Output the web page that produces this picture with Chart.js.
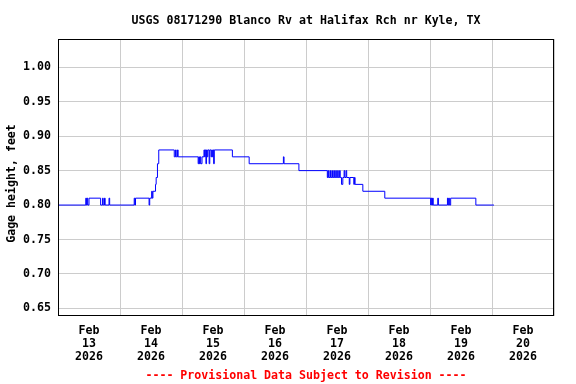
<!DOCTYPE html>
<html><head><meta charset="utf-8">
<script src="https://cdn.jsdelivr.net/npm/chart.js@4/dist/chart.umd.min.js"></script>
<style>html,body{margin:0;padding:0;background:#fff}canvas{display:block}</style>
</head><body>
<canvas id="c" width="576" height="384"></canvas>
<script>
// Hours since Feb 13 2026 00:00 at which the gage value changes
const hours = [0,10.75,11.0,11.25,11.5,12.0,16.5,17.25,17.5,18.0,18.25,19.75,20.0,29.5,29.75,30.0,35.25,35.5,36.25,36.5,36.75,37.75,38.0,38.5,39.0,
  45.0,45.5,45.75,46.25,46.5,54.25,54.5,54.75,55.0,55.25,55.75,56.5,56.75,57.0,57.25,57.5,57.75,58.0,58.5,58.75,59.25,59.5,59.75,60.0,60.25,60.5,
  67.5,74.0,87.25,87.5,93.25,104.25,104.5,104.75,105.25,105.5,106.0,106.25,106.75,107.0,107.5,107.75,108.25,108.5,109.0,109.25,109.75,110.25,110.75,111.0,111.5,111.75,
  112.75,113.0,114.5,114.75,115.0,118.0,126.5,144.25,144.5,144.75,145.0,145.25,147.0,147.25,150.75,151.0,151.25,151.5,152.0,161.75,168.75];
const gage = [0.80,0.81,0.80,0.81,0.80,0.81,0.80,0.81,0.80,0.81,0.80,0.81,0.80,0.81,0.80,0.81,0.80,0.81,0.82,0.81,0.82,0.83,0.84,0.86,0.88,
  0.87,0.88,0.87,0.88,0.87,0.86,0.87,0.86,0.87,0.86,0.87,0.88,0.87,0.88,0.86,0.88,0.87,0.88,0.86,0.88,0.87,0.88,0.87,0.88,0.86,0.88,
  0.87,0.86,0.87,0.86,0.85,0.84,0.85,0.84,0.85,0.84,0.85,0.84,0.85,0.84,0.85,0.84,0.85,0.84,0.85,0.84,0.83,0.84,0.85,0.84,0.85,0.84,
  0.83,0.84,0.83,0.84,0.83,0.82,0.81,0.80,0.81,0.80,0.81,0.80,0.81,0.80,0.81,0.80,0.81,0.80,0.81,0.80,0.80];
const dayTickHours = [12,36,60,84,108,132,156,180];
const dayTickLabels = ['Feb 13 2026','Feb 14 2026','Feb 15 2026','Feb 16 2026','Feb 17 2026','Feb 18 2026','Feb 19 2026','Feb 20 2026'];
const gridHours = [0,24,48,72,96,120,144,168,192];
const yTicks = [0.65,0.70,0.75,0.80,0.85,0.90,0.95,1.00];

const FONT = "'DejaVu Sans Mono', 'Liberation Mono', monospace";
const f = {family: FONT, size: 11.6, weight: 'bold', lineHeight: '14px'};

const frame = {
  id: 'frame',
  afterDatasetsDraw(chart) {
    const a = chart.chartArea, ctx = chart.ctx;
    ctx.save();
    ctx.strokeStyle = '#000';
    ctx.lineWidth = 1;
    ctx.strokeRect(Math.round(a.left) + 0.5, Math.round(a.top) + 0.5, Math.round(a.right - a.left) - 1, Math.round(a.bottom - a.top) - 1);
    ctx.restore();
  }
};

new Chart(document.getElementById('c'), {
  type: 'line',
  data: {
    datasets: [{
      data: hours.map((h, i) => ({x: h, y: gage[i]})),
      borderColor: '#0000ff',
      borderWidth: 1,
      pointRadius: 0,
      stepped: true,
      fill: false
    }]
  },
  options: {
    responsive: false,
    animation: false,
    events: [],
    layout: {padding: {left: 0, right: 22, top: 0, bottom: 0}},
    plugins: {
      legend: {display: false},
      tooltip: {enabled: false},
      title: {display: true, fullSize: false, text: 'USGS 08171290 Blanco Rv at Halifax Rch nr Kyle, TX', color: '#000', font: f, padding: {top: 14, bottom: 11}},
      subtitle: {display: true, fullSize: false, position: 'bottom', text: '---- Provisional Data Subject to Revision ----', color: '#ff0000', font: f, padding: {top: 3, bottom: 1}}
    },
    scales: {
      x: {
        type: 'linear', position: 'bottom', min: 0, max: 192, weight: 2,
        afterBuildTicks: s => { s.ticks = gridHours.map(v => ({value: v})); },
        afterFit: s => { s.height = 0; },
        ticks: {display: false},
        grid: {color: '#cccccc', drawTicks: false, lineWidth: 1},
        border: {display: false}
      },
      x2: {
        type: 'linear', position: 'bottom', min: 0, max: 192, weight: 1,
        afterBuildTicks: s => { s.ticks = dayTickHours.map(v => ({value: v})); },
        afterFit: s => { s.height = 50; },
        ticks: {
          autoSkip: false, maxRotation: 0, minRotation: 0, padding: 8, color: '#000',
          font: {family: FONT, size: 11.6, weight: 'bold', lineHeight: '13px'},
          callback: (v, i) => dayTickLabels[i].split(' ')
        },
        grid: {display: false, drawTicks: false},
        border: {display: false}
      },
      y: {
        type: 'linear', min: 0.639, max: 1.041,
        afterBuildTicks: s => { s.ticks = yTicks.map(v => ({value: v})); },
        afterFit: s => {
          s.width = 58;
          if (!s._titleShifted) {
            const orig = s.drawTitle;
            s.drawTitle = function () {
              const ctx = this.ctx;
              ctx.save();
              ctx.translate(0, 6);
              orig.apply(this, arguments);
              ctx.restore();
            };
            s._titleShifted = true;
          }
        },
        ticks: {padding: 7, color: '#000', font: f, callback: v => v.toFixed(2)},
        grid: {color: '#cccccc', drawTicks: false, lineWidth: 1},
        border: {display: false},
        title: {display: true, text: 'Gage height, feet', color: '#000', font: f, padding: {top: 5, bottom: 0}}
      }
    }
  },
  plugins: [frame]
});
</script>
</body></html>
